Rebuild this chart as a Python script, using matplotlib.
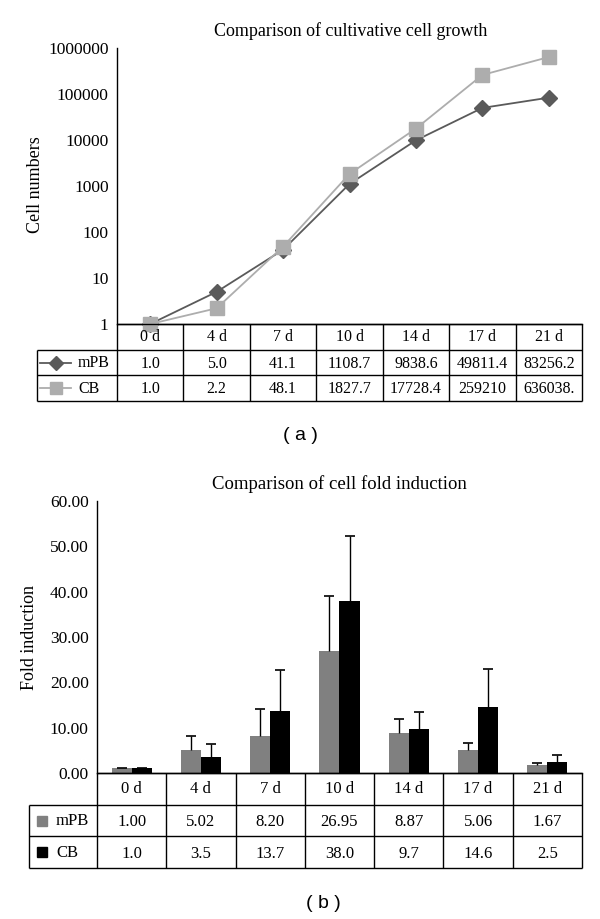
import numpy as np
import matplotlib
matplotlib.use("Agg")
import matplotlib.pyplot as plt

# data
days = ["0 d", "4 d", "7 d", "10 d", "14 d", "17 d", "21 d"]
growth_mpb = [1.0, 5.0, 41.1, 1108.7, 9838.6, 49811.4, 83256.2]
growth_cb = [1.0, 2.2, 48.1, 1827.7, 17728.4, 259210, 636038]
growth_mpb_txt = ["1.0", "5.0", "41.1", "1108.7", "9838.6", "49811.4", "83256.2"]
growth_cb_txt = ["1.0", "2.2", "48.1", "1827.7", "17728.4", "259210", "636038."]

fold_mpb = [1.00, 5.02, 8.20, 26.95, 8.87, 5.06, 1.67]
fold_cb = [1.0, 3.5, 13.7, 38.0, 9.7, 14.6, 2.5]
fold_mpb_err = [0.1, 3.1, 5.9, 12.1, 3.1, 1.5, 0.5]
fold_cb_err = [0.1, 2.8, 9.0, 14.3, 3.7, 8.4, 1.5]
fold_mpb_txt = ["1.00", "5.02", "8.20", "26.95", "8.87", "5.06", "1.67"]
fold_cb_txt = ["1.0", "3.5", "13.7", "38.0", "9.7", "14.6", "2.5"]

W, H = 600, 919
SERIF = "Liberation Serif"
C_MPB_LINE = "#5a5a5a"
C_CB_LINE = "#adadad"
C_MPB_BAR = "#808080"
C_CB_BAR = "#000000"

fig = plt.figure(figsize=(W / 100, H / 100), dpi=100)


def px_axes(left, top, right, bottom):
    return fig.add_axes([left / W, 1 - bottom / H, (right - left) / W, (bottom - top) / H])


def style_axes(ax):
    for s in ("top", "right"):
        ax.spines[s].set_visible(False)
    for s in ("left", "bottom"):
        ax.spines[s].set_linewidth(1.0)
        ax.spines[s].set_color("black")
    ax.tick_params(axis="y", length=0, pad=6, labelsize=12.5)
    ax.tick_params(axis="x", length=0, labelbottom=False)
    for lab in ax.get_yticklabels():
        lab.set_family(SERIF)


def draw_table(tax, label_left, rows, fs):
    n = len(days)
    tax.set_xlim(-0.5, n - 0.5)
    tax.set_ylim(3, 0)
    tax.axis("off")
    kw = dict(color="black", lw=1.0, clip_on=False)
    tax.hlines(0, -0.5, n - 0.5, **kw)
    tax.hlines([1, 2, 3], label_left, n - 0.5, **kw)
    tax.vlines(np.arange(n + 1) - 0.5, 0, 3, **kw)
    tax.vlines(label_left, 1, 3, **kw)
    for i, d in enumerate(days):
        tax.text(i, 0.52, d, ha="center", va="center", family=SERIF, fontsize=fs, clip_on=False)
    for r, vals in enumerate(rows):
        for i, v in enumerate(vals):
            tax.text(i, r + 1.55, v, ha="center", va="center", family=SERIF, fontsize=fs, clip_on=False)


# ---------------- (a) cumulative growth ----------------
ax1 = px_axes(117, 48, 582, 324)
x = np.arange(len(days))
ax1.plot(x, growth_cb, color=C_CB_LINE, lw=1.3, marker="s", ms=9.5, zorder=4, clip_on=False)
ax1.plot(x, growth_mpb, color=C_MPB_LINE, lw=1.3, marker="D", ms=8, zorder=3, clip_on=False)
ax1.set_yscale("log")
ax1.set_ylim(1, 1e6)
ax1.set_xlim(-0.5, len(days) - 0.5)
ax1.set_yticks([10 ** k for k in range(7)])
ax1.set_yticklabels([str(10 ** k) for k in range(7)])
ax1.yaxis.set_minor_locator(matplotlib.ticker.NullLocator())
style_axes(ax1)
fig.text(351 / W, 1 - 31 / H, "Comparison of cultivative cell growth", ha="center", va="center",
         family=SERIF, fontsize=13)
fig.text(35 / W, 1 - 185 / H, "Cell numbers", rotation=90, ha="center", va="center",
         family=SERIF, fontsize=13)

t1 = px_axes(117, 324, 582, 401)
cw1 = 465 / 7
lab_left1 = (37 - 117) / cw1 - 0.5
draw_table(t1, lab_left1, [growth_mpb_txt, growth_cb_txt], 11.5)
for r, (name, col, mk, ms) in enumerate([("mPB", C_MPB_LINE, "D", 7), ("CB", C_CB_LINE, "s", 8)]):
    yy = r + 1.5
    t1.plot([(40 - 117) / cw1 - 0.5, (71 - 117) / cw1 - 0.5], [yy, yy], color=col, lw=1.3, clip_on=False)
    t1.plot([(56 - 117) / cw1 - 0.5], [yy], color=col, marker=mk, ms=ms, clip_on=False)
    t1.text((78 - 117) / cw1 - 0.5, yy + 0.02, name, ha="left", va="center", family=SERIF,
            fontsize=11.5, clip_on=False)

fig.text(300 / W, 1 - 436 / H, "( a )", ha="center", va="center", family="Liberation Sans", fontsize=14)

# ---------------- (b) fold induction ----------------
ax2 = px_axes(97, 501, 582, 773)
bw = 0.29
xm = x - bw / 2
xc = x + bw / 2
ax2.bar(xm, fold_mpb, width=bw, color=C_MPB_BAR, zorder=2)
ax2.bar(xc, fold_cb, width=bw, color=C_CB_BAR, zorder=2)
for xs, vals, errs in [(xm, fold_mpb, fold_mpb_err), (xc, fold_cb, fold_cb_err)]:
    eb = ax2.errorbar(xs, vals, yerr=[np.zeros(len(vals)), errs], fmt="none", ecolor="black",
                      elinewidth=1.0, capsize=3.5, capthick=1.2, zorder=3)
    eb[1][0].set_visible(False)
ax2.set_ylim(0, 60)
ax2.set_xlim(-0.5, len(days) - 0.5)
ax2.set_yticks(np.arange(0, 61, 10))
ax2.set_yticklabels(["%.2f" % v for v in np.arange(0, 61, 10)])
style_axes(ax2)
fig.text(339 / W, 1 - 484 / H, "Comparison of cell fold induction", ha="center", va="center",
         family=SERIF, fontsize=13.5)
fig.text(30 / W, 1 - 637 / H, "Fold induction", rotation=90, ha="center", va="center",
         family=SERIF, fontsize=13)

t2 = px_axes(97, 773, 582, 868)
cw2 = 485 / 7
lab_left2 = (29 - 97) / cw2 - 0.5
draw_table(t2, lab_left2, [fold_mpb_txt, fold_cb_txt], 12)
for r, (name, col) in enumerate([("mPB", C_MPB_BAR), ("CB", C_CB_BAR)]):
    yy = r + 1.5
    t2.plot([(42 - 97) / cw2 - 0.5], [yy], color=col, marker="s", ms=7, clip_on=False)
    t2.text((56 - 97) / cw2 - 0.5, yy + 0.02, name, ha="left", va="center", family=SERIF,
            fontsize=12, clip_on=False)

fig.text(323 / W, 1 - 903 / H, "( b )", ha="center", va="center", family="Liberation Sans", fontsize=14)

fig.savefig("out.png", dpi=100, facecolor="white")
